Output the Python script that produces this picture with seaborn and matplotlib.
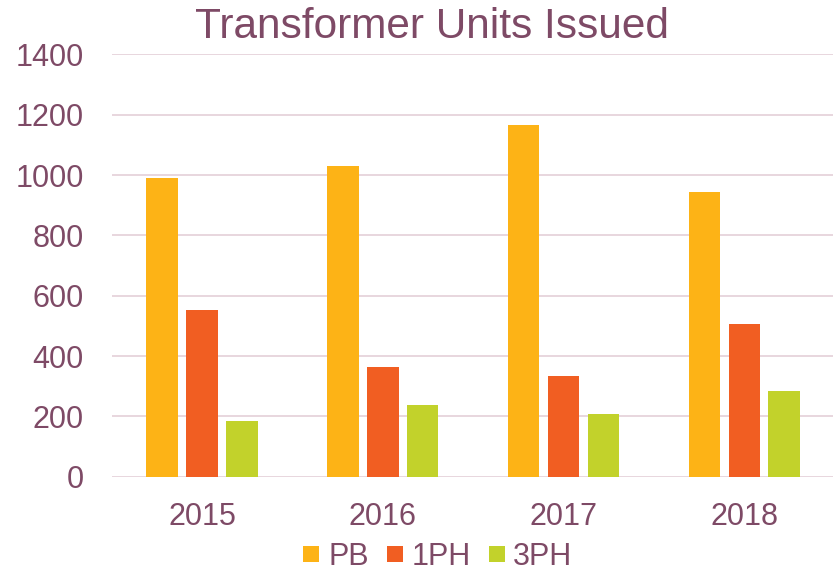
import matplotlib
matplotlib.use("Agg")
import matplotlib.pyplot as plt
from matplotlib.lines import Line2D
import pandas as pd
import seaborn as sns

years = ["2015", "2016", "2017", "2018"]
series = ["PB", "1PH", "3PH"]
pb = [990, 1030, 1165, 945]
ph1 = [552, 364, 333, 505]
ph3 = [186, 237, 208, 284]
colors = ["#FDB316", "#F15E22", "#C2D22B"]
text_color = "#7E4A66"
grid_color = "#E8D6DE"


def plot():
    sns.set_theme(style="white")
    plt.rcParams["font.family"] = ["Liberation Sans", "DejaVu Sans"]

    rows = []
    for name, vals in zip(series, [pb, ph1, ph3]):
        for y, v in zip(years, vals):
            rows.append({"Year": y, "Type": name, "Units": v})
    df = pd.DataFrame(rows)

    fig = plt.figure(figsize=(8.33, 5.73), dpi=100)
    ax = fig.add_axes([0.134, 0.168, 0.868, 0.737])

    sns.barplot(data=df, x="Year", y="Units", hue="Type", order=years,
                hue_order=series, palette=colors, saturation=1,
                width=0.663, gap=0.21, linewidth=0, legend=False,
                ax=ax, zorder=3)

    ax.set_xlim(-0.5, 3.5)
    ax.set_ylim(0, 1400)
    ax.set_yticks(range(0, 1401, 200))
    ax.yaxis.grid(True, color=grid_color, linewidth=1.4, zorder=0)
    ax.set_axisbelow(True)
    for s in ax.spines.values():
        s.set_visible(False)
    ax.tick_params(axis="y", length=0, pad=20, labelsize=22, labelcolor=text_color)
    ax.tick_params(axis="x", length=0, pad=18, labelsize=22, labelcolor=text_color)
    ax.set_xlabel("")
    ax.set_ylabel("")

    fig.text(0.519, 0.953, "Transformer Units Issued", ha="center", va="center",
             fontsize=30.5, color=text_color)

    handles = [Line2D([], [], marker="s", linestyle="none", markersize=11.5,
                      markerfacecolor=c, markeredgewidth=0) for c in colors]
    fig.legend(handles, series, loc="center", ncol=3,
               bbox_to_anchor=(0.525, 0.028), frameon=False,
               fontsize=22, handlelength=0.6, handletextpad=0.25,
               columnspacing=0.55, labelcolor=text_color)

    fig.savefig("out.png", dpi=100)


plot()
